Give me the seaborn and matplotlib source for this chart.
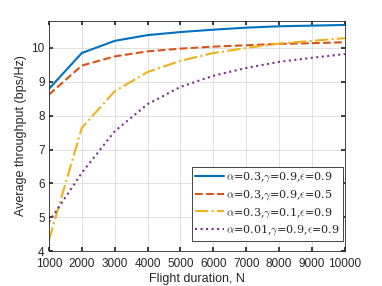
import matplotlib
matplotlib.use('Agg')
import matplotlib.pyplot as plt
import seaborn as sns
import numpy as np

sns.set_theme(style="whitegrid")
plt.rcParams['font.family'] = ['Liberation Sans', 'DejaVu Sans']
plt.rcParams['mathtext.fontset'] = 'cm'

# Data
flight_duration = [1000, 2000, 3000, 4000, 5000, 6000, 7000, 8000, 9000, 10000]
thr_a03_g09_e09 = [8.79, 9.85, 10.21, 10.38, 10.47, 10.54, 10.60, 10.64, 10.66, 10.68]
thr_a03_g09_e05 = [8.62, 9.48, 9.75, 9.90, 9.98, 10.04, 10.08, 10.12, 10.14, 10.17]
thr_a03_g01_e09 = [4.32, 7.64, 8.72, 9.29, 9.62, 9.85, 10.00, 10.13, 10.21, 10.29]
thr_a001_g09_e09 = [4.86, 6.31, 7.54, 8.34, 8.85, 9.18, 9.41, 9.59, 9.71, 9.82]

series = [
    (thr_a03_g09_e09, r'$\alpha$=0.3,$\gamma$=0.9,$\epsilon$=0.9', '#0072BD', '-'),
    (thr_a03_g09_e05, r'$\alpha$=0.3,$\gamma$=0.9,$\epsilon$=0.5', '#D95319', '--'),
    (thr_a03_g01_e09, r'$\alpha$=0.3,$\gamma$=0.1,$\epsilon$=0.9', '#EDB120', '-.'),
    (thr_a001_g09_e09, r'$\alpha$=0.01,$\gamma$=0.9,$\epsilon$=0.9', '#7E2F8E', ':'),
]

fig = plt.figure(figsize=(3.82, 2.86), dpi=100)
ax = fig.add_axes([0.128, 0.122, 0.775, 0.805])
ax.set_facecolor('white')

for vals, lab, col, ls in series:
    sns.lineplot(x=flight_duration, y=vals, ax=ax, color=col, linestyle=ls,
                 linewidth=1.5, label=lab)

ax.set_xlim(1000, 10000)
ax.set_ylim(4, 10.8)
ax.set_xticks(np.arange(1000, 10001, 1000))
ax.set_yticks(np.arange(4, 11, 1))
ax.tick_params(axis='both', labelsize=8.5, direction='in', length=3,
               top=True, right=True, bottom=True, left=True,
               colors='#262626')
ax.tick_params(axis='x', pad=5)
ax.tick_params(axis='y', pad=3)
ax.grid(True, color='#dcdcdc', linewidth=0.6)
for sp in ax.spines.values():
    sp.set_color('#262626')
    sp.set_linewidth(0.6)

ax.set_xlabel('Flight duration, N', fontsize=9, color='#262626', labelpad=2)
ax.set_ylabel('Average throughput (bps/Hz)', fontsize=9, color='#262626', labelpad=3)

leg = ax.legend(loc='lower right', bbox_to_anchor=(0.994, 0.045), frameon=True,
                fancybox=False, borderpad=0.3, labelspacing=0.35,
                handlelength=2.6, handletextpad=0.2, borderaxespad=0,
                prop={'family': 'DejaVu Serif', 'size': 8})
leg.get_frame().set_edgecolor('#262626')
leg.get_frame().set_linewidth(0.6)
leg.get_frame().set_alpha(1)

fig.savefig('out.png', dpi=100, facecolor='white')
